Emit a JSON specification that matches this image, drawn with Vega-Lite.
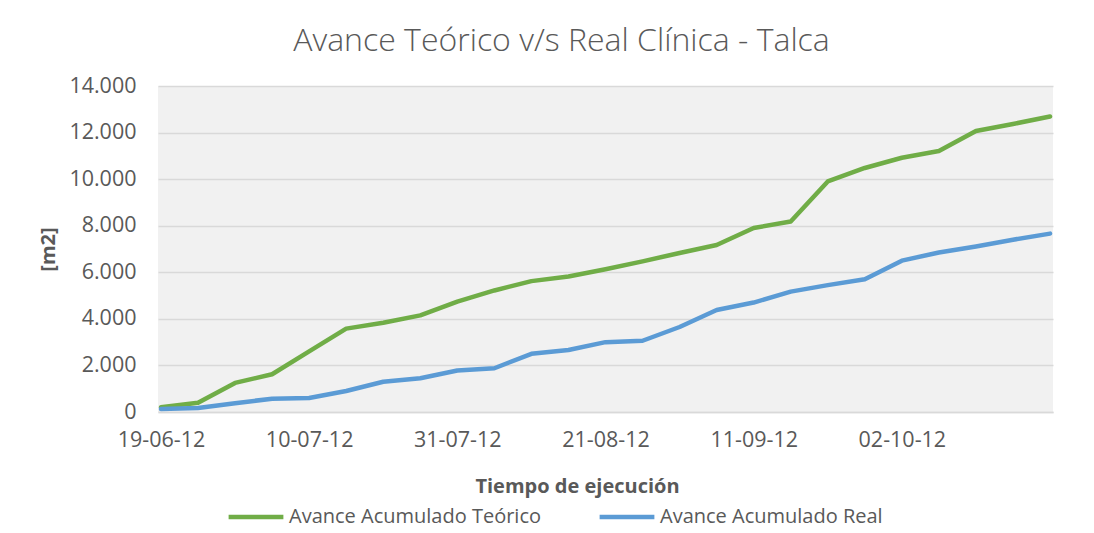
{
  "$schema": "https://vega.github.io/schema/vega-lite/v6.json",
  "autosize": {"type": "none"},
  "width": 895,
  "height": 326,
  "padding": {"left": 158, "top": 86, "right": 41, "bottom": 121},
  "background": "white",
  "title": {
    "text": "Avance Teórico v/s Real Clínica - Talca",
    "font": "Open Sans",
    "fontSize": 32,
    "fontWeight": 300,
    "color": "#595959",
    "anchor": "middle",
    "dx": -44,
    "offset": 17
  },
  "config": {
    "view": {"fill": "#f1f1f1", "stroke": null},
    "font": "Open Sans"
  },
  "data": {
    "values": [
      {"fecha": "19-06-12", "serie": "Avance Acumulado Teórico", "m2": 200},
      {"fecha": "24-06-12", "serie": "Avance Acumulado Teórico", "m2": 400},
      {"fecha": "29-06-12", "serie": "Avance Acumulado Teórico", "m2": 1250},
      {"fecha": "05-07-12", "serie": "Avance Acumulado Teórico", "m2": 1620},
      {"fecha": "10-07-12", "serie": "Avance Acumulado Teórico", "m2": 2600},
      {"fecha": "15-07-12", "serie": "Avance Acumulado Teórico", "m2": 3580},
      {"fecha": "20-07-12", "serie": "Avance Acumulado Teórico", "m2": 3830},
      {"fecha": "26-07-12", "serie": "Avance Acumulado Teórico", "m2": 4150},
      {"fecha": "31-07-12", "serie": "Avance Acumulado Teórico", "m2": 4740},
      {"fecha": "05-08-12", "serie": "Avance Acumulado Teórico", "m2": 5220},
      {"fecha": "10-08-12", "serie": "Avance Acumulado Teórico", "m2": 5620},
      {"fecha": "16-08-12", "serie": "Avance Acumulado Teórico", "m2": 5820},
      {"fecha": "21-08-12", "serie": "Avance Acumulado Teórico", "m2": 6130},
      {"fecha": "26-08-12", "serie": "Avance Acumulado Teórico", "m2": 6470},
      {"fecha": "31-08-12", "serie": "Avance Acumulado Teórico", "m2": 6830},
      {"fecha": "06-09-12", "serie": "Avance Acumulado Teórico", "m2": 7170},
      {"fecha": "11-09-12", "serie": "Avance Acumulado Teórico", "m2": 7900},
      {"fecha": "16-09-12", "serie": "Avance Acumulado Teórico", "m2": 8180},
      {"fecha": "21-09-12", "serie": "Avance Acumulado Teórico", "m2": 9900},
      {"fecha": "27-09-12", "serie": "Avance Acumulado Teórico", "m2": 10480},
      {"fecha": "02-10-12", "serie": "Avance Acumulado Teórico", "m2": 10920},
      {"fecha": "07-10-12", "serie": "Avance Acumulado Teórico", "m2": 11210},
      {"fecha": "12-10-12", "serie": "Avance Acumulado Teórico", "m2": 12070},
      {"fecha": "18-10-12", "serie": "Avance Acumulado Teórico", "m2": 12370},
      {"fecha": "23-10-12", "serie": "Avance Acumulado Teórico", "m2": 12690},
      {"fecha": "19-06-12", "serie": "Avance Acumulado Real", "m2": 130},
      {"fecha": "24-06-12", "serie": "Avance Acumulado Real", "m2": 170},
      {"fecha": "29-06-12", "serie": "Avance Acumulado Real", "m2": 380},
      {"fecha": "05-07-12", "serie": "Avance Acumulado Real", "m2": 570},
      {"fecha": "10-07-12", "serie": "Avance Acumulado Real", "m2": 600},
      {"fecha": "15-07-12", "serie": "Avance Acumulado Real", "m2": 900},
      {"fecha": "20-07-12", "serie": "Avance Acumulado Real", "m2": 1300},
      {"fecha": "26-07-12", "serie": "Avance Acumulado Real", "m2": 1450},
      {"fecha": "31-07-12", "serie": "Avance Acumulado Real", "m2": 1780},
      {"fecha": "05-08-12", "serie": "Avance Acumulado Real", "m2": 1880},
      {"fecha": "10-08-12", "serie": "Avance Acumulado Real", "m2": 2500},
      {"fecha": "16-08-12", "serie": "Avance Acumulado Real", "m2": 2660},
      {"fecha": "21-08-12", "serie": "Avance Acumulado Real", "m2": 3000},
      {"fecha": "26-08-12", "serie": "Avance Acumulado Real", "m2": 3060},
      {"fecha": "31-08-12", "serie": "Avance Acumulado Real", "m2": 3650},
      {"fecha": "06-09-12", "serie": "Avance Acumulado Real", "m2": 4380},
      {"fecha": "11-09-12", "serie": "Avance Acumulado Real", "m2": 4700},
      {"fecha": "16-09-12", "serie": "Avance Acumulado Real", "m2": 5170},
      {"fecha": "21-09-12", "serie": "Avance Acumulado Real", "m2": 5450},
      {"fecha": "27-09-12", "serie": "Avance Acumulado Real", "m2": 5700},
      {"fecha": "02-10-12", "serie": "Avance Acumulado Real", "m2": 6500},
      {"fecha": "07-10-12", "serie": "Avance Acumulado Real", "m2": 6850},
      {"fecha": "12-10-12", "serie": "Avance Acumulado Real", "m2": 7110},
      {"fecha": "18-10-12", "serie": "Avance Acumulado Real", "m2": 7400},
      {"fecha": "23-10-12", "serie": "Avance Acumulado Real", "m2": 7660}
    ]
  },
  "mark": {"type": "line", "strokeWidth": 4.5, "strokeCap": "round", "strokeJoin": "round"},
  "encoding": {
    "x": {
      "field": "fecha",
      "type": "ordinal",
      "sort": null,
      "scale": {"type": "point", "padding": 0.08},
      "axis": {
        "values": ["19-06-12", "10-07-12", "31-07-12", "21-08-12", "11-09-12", "02-10-12"],
        "title": "Tiempo de ejecución",
        "titleFont": "Open Sans",
        "titleFontSize": 20,
        "titleFontWeight": "bold",
        "titleColor": "#595959",
        "titlePadding": 26,
        "titleX": 419,
        "titleAnchor": "middle",
        "labelAngle": 0,
        "labelFont": "Open Sans",
        "labelFontSize": 21.5,
        "labelColor": "#595959",
        "labelPadding": 17,
        "ticks": false,
        "domainColor": "#d9d9d9",
        "domainWidth": 1.5,
        "grid": false
      }
    },
    "y": {
      "field": "m2",
      "type": "quantitative",
      "scale": {"domain": [0, 14000], "nice": false},
      "axis": {
        "values": [0, 2000, 4000, 6000, 8000, 10000, 12000, 14000],
        "labelExpr": "replace(format(datum.value, ','), ',', '.')",
        "title": "[m2]",
        "titleFont": "Open Sans",
        "titleFontSize": 20,
        "titleFontWeight": "bold",
        "titleColor": "#595959",
        "titleX": -100,
        "titleY": 163,
        "titleAnchor": "middle",
        "labelFont": "Open Sans",
        "labelFontSize": 21.5,
        "labelColor": "#595959",
        "labelPadding": 22,
        "ticks": false,
        "domain": false,
        "grid": true,
        "gridColor": "#d9d9d9",
        "gridWidth": 1.3
      }
    },
    "color": {
      "field": "serie",
      "type": "nominal",
      "scale": {
        "domain": ["Avance Acumulado Teórico", "Avance Acumulado Real"],
        "range": ["#70ad47", "#5b9bd5"]
      },
      "legend": {
        "orient": "none",
        "direction": "horizontal",
        "legendX": 68,
        "legendY": 401,
        "title": null,
        "symbolType": "stroke",
        "symbolSize": 3000,
        "symbolStrokeWidth": 4.5,
        "labelFont": "Open Sans",
        "labelFontSize": 20,
        "labelLimit": 400,
        "labelColor": "#595959",
        "labelOffset": 3,
        "columnPadding": 48
      }
    }
  }
}
